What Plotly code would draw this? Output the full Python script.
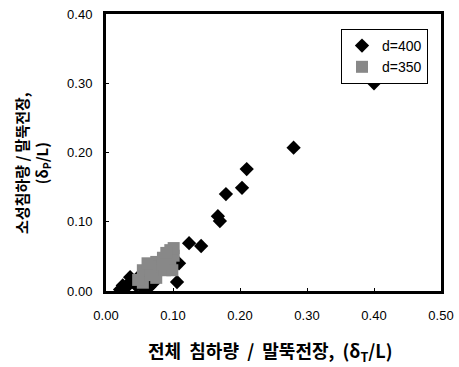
import plotly.graph_objects as go

# d=400 series (diamonds)
d400_x = [0.40, 0.28, 0.21, 0.203, 0.179, 0.167, 0.170, 0.124, 0.142, 0.109, 0.106,
          0.036, 0.025, 0.021, 0.030, 0.040, 0.045, 0.050, 0.055, 0.060, 0.065, 0.070, 0.035, 0.048]
d400_y = [0.30, 0.207, 0.176, 0.149, 0.140, 0.108, 0.101, 0.069, 0.065, 0.040, 0.013,
          0.020, 0.008, 0.002, 0.005, 0.014, 0.008, 0.012, 0.004, 0.009, 0.006, 0.011, 0.012, 0.020]

# d=350 series (squares)
d350_x = [0.055, 0.055, 0.066, 0.075, 0.075, 0.075, 0.085, 0.088, 0.096, 0.096, 0.101, 0.101,
          0.099, 0.048, 0.066, 0.085, 0.090, 0.062]
d350_y = [0.012, 0.030, 0.023, 0.019, 0.042, 0.030, 0.048, 0.030, 0.042, 0.059, 0.051, 0.062,
          0.030, 0.016, 0.035, 0.038, 0.055, 0.040]

xticks = [0.0, 0.1, 0.2, 0.3, 0.4, 0.5]
yticks = [0.0, 0.1, 0.2, 0.3, 0.4]

fig = go.Figure()
fig.add_trace(go.Scatter(x=d400_x, y=d400_y, mode="markers", name="d=400",
                         marker=dict(symbol="diamond", size=11, color="black")))
fig.add_trace(go.Scatter(x=d350_x, y=d350_y, mode="markers", name="d=350",
                         marker=dict(symbol="square", size=12, color="#888888")))

axis_common = dict(showgrid=False, zeroline=False, showline=True, linecolor="black",
                   linewidth=3, mirror=True, ticks="inside", ticklen=3, tickcolor="black",
                   tickformat=".2f", tickfont=dict(family="Liberation Sans, Arial", size=13, color="black"))

W, H = 459, 367
L, T, R, B = 106, 14, 18, 76
PW, PH = W - L - R, H - T - B

fig.update_layout(
    width=W, height=H,
    margin=dict(l=L, r=R, t=T, b=B, autoexpand=False),
    paper_bgcolor="white", plot_bgcolor="white",
    showlegend=True,
    legend=dict(x=(341 - L) / PW, y=(PH + T - 29) / PH, xanchor="left", yanchor="top",
                bgcolor="white", bordercolor="black", borderwidth=1,
                font=dict(family="Liberation Sans, Arial", size=14, color="black"),
                itemwidth=30, tracegroupgap=4),
    xaxis=dict(range=[0, 0.5], tickvals=xticks, ticklabelstandoff=10, **axis_common),
    yaxis=dict(range=[0, 0.4], tickvals=yticks, ticklabelstandoff=8, **axis_common),
    annotations=[
        dict(text="<b>전체  침하량  /  말뚝전장,  (δ<sub>T</sub>/L)</b>", xref="paper", yref="paper",
             x=(270 - L) / PW, y=(T + PH - 351) / PH, xanchor="center", yanchor="middle",
             showarrow=False, font=dict(family="Noto Sans CJK KR", size=18, color="black")),
        dict(text="<b>소성침하량 / 말뚝전장,<br>(δ<sub>P</sub>/L)</b>", xref="paper", yref="paper",
             x=(32 - L) / PW, y=(T + PH - 163) / PH, xanchor="center", yanchor="middle",
             textangle=-90, showarrow=False,
             font=dict(family="Noto Sans CJK KR", size=15, color="black")),
    ],
)

fig.write_html("out.html", config={"displayModeBar": False},
               post_script="document.body.style.margin='0';")
